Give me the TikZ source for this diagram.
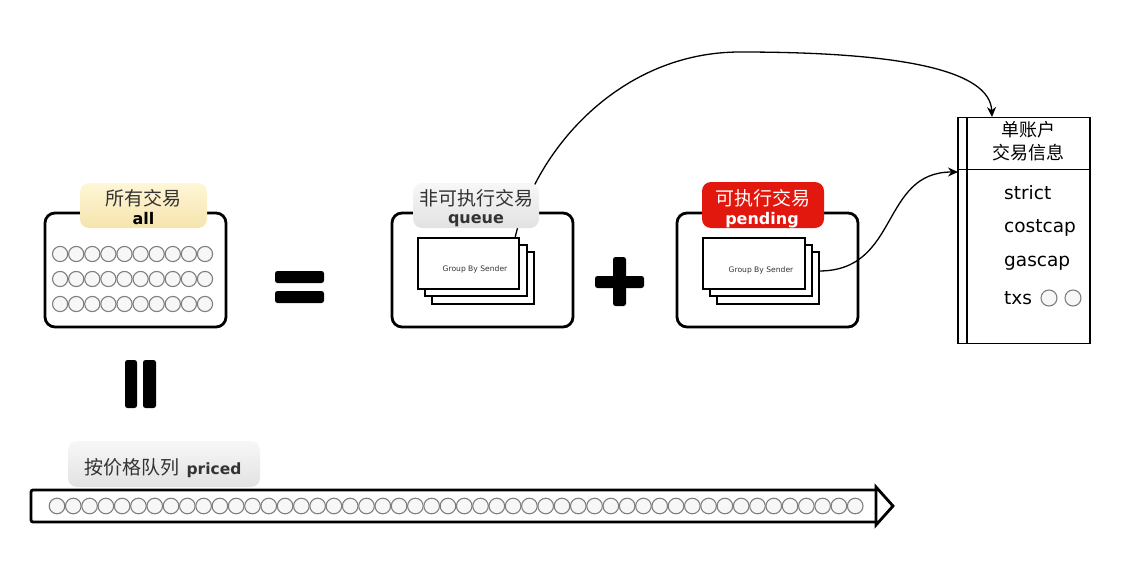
\documentclass[tikz,border=0pt]{standalone}
\usepackage{fontspec}
\newfontfamily\cjk{Noto Sans CJK SC}
\newfontfamily\lat{DejaVu Sans}
\usetikzlibrary{arrows.meta}
\definecolor{tabyellowtop}{HTML}{FFF6D6}
\definecolor{tabyellowbot}{HTML}{F6E4AE}
\definecolor{tabgraytop}{HTML}{F7F7F7}
\definecolor{tabgraybot}{HTML}{E2E2E2}
\definecolor{tabred}{HTML}{E2170D}
\definecolor{ringgray}{HTML}{7F7F7F}
\definecolor{txtgray}{HTML}{333333}
\tikzset{
  container/.style={draw=black, line width=2.8pt, rounded corners=10pt},
  tab/.style={rounded corners=9pt, draw=none},
  graytab/.style={tab, top color=tabgraytop, bottom color=tabgraybot},
  card/.style={draw=black, line width=1.3pt, fill=white},
  ring/.style={draw=ringgray, line width=1.1pt, fill=white!97!black},
  bar/.style={fill=black, rounded corners=2.5pt},
  cjktxt/.style={font=\cjk\fontsize{19}{22}\selectfont, text=txtgray, inner sep=0pt},
  lattxt/.style={font=\lat\bfseries\fontsize{16}{19}\selectfont, text=txtgray, inner sep=0pt},
  grptxt/.style={font=\lat\fontsize{7.6}{9}\selectfont, text=txtgray, inner sep=0pt},
  itemtxt/.style={font=\lat\fontsize{18.5}{21}\selectfont, anchor=west, inner sep=0pt},
  conn/.style={draw=black, line width=1.3pt, -{Stealth[length=10pt,width=9pt]}},
}
\begin{document}
\begin{tikzpicture}[x=1pt,y=-1pt]
\useasboundingbox (0,0) rectangle (1130,570);

% ---------- all box ----------
\draw[container] (45,213) rectangle (226,327);
\node[tab, top color=tabyellowtop, bottom color=tabyellowbot, minimum width=127pt, minimum height=45pt] (alltab) at (143.5,205.5) {};
\node[cjktxt] (allcn) at (143.5,198) {所有交易};
\node[lattxt, text=black] (allen) at (143.5,219) {all};
\foreach \r/\yy in {0/254,1/279,2/304}{
  \foreach \i in {0,...,9}{
    \draw[ring] ({60.1+16.1*\i},\yy) circle (7.6);
  }
}

% ---------- equals ----------
\fill[bar] (275,271) rectangle (324,283);
\fill[bar] (275,291) rectangle (324,303);

% ---------- parallel ----------
\fill[bar] (125,360) rectangle (137,408);
\fill[bar] (143,360) rectangle (156,408);

% ---------- queue box ----------
\draw[container] (392,213) rectangle (573,327);
\draw[card] (432,252) rectangle (534,304);
\draw[card] (425,245) rectangle (527,296);
\draw[card] (418,238) rectangle (519,289);
\node[grptxt] (qgrp) at (475,269) {Group By Sender};
\coordinate (qstart) at (515,238);

% ---------- plus ----------
\fill[bar] (595,276) rectangle (644,288);
\fill[bar] (613,257) rectangle (626,306);

% ---------- pending box ----------
\draw[container] (677,213) rectangle (858,327);
\draw[card] (717,252) rectangle (819,304);
\draw[card] (710,245) rectangle (812,296);
\draw[card] (703,238) rectangle (805,289);
\node[grptxt] (pgrp) at (761,270) {Group By Sender};
\coordinate (pstart) at (819,271);

% ---------- right info box ----------
\node[draw=black, line width=1.3pt, minimum width=132pt, minimum height=226pt, inner sep=0pt] (info) at (1024,230.5) {};
\draw[line width=1.3pt] (967,117) -- (967,344);
\draw[line width=1.3pt] (958,169.5) -- (1090,169.5);
\node[font=\cjk\fontsize{18}{21}\selectfont, inner sep=0pt] (infot1) at (1028,130) {单账户};
\node[font=\cjk\fontsize{18}{21}\selectfont, inner sep=0pt] (infot2) at (1028,153) {交易信息};
\node[itemtxt] (istrict) at (1004,193) {strict};
\node[itemtxt] (icost) at (1004,228) {costcap};
\node[itemtxt] (igas) at (1004,263) {gascap};
\node[itemtxt] (itxs) at (1004,298) {txs};
\draw[ring] (1049,298) circle (8);
\draw[ring] (1073,298) circle (8);
\coordinate (infotop) at (992,117);
\coordinate (infoleft) at (958,172);

% ---------- connectors ----------
\draw[conn] (qstart) .. controls (535,150) and (620,52) .. (740,52)
   .. controls (900,52) and (990,70) .. (infotop);
\draw[conn] (pstart) .. controls (900,271) and (880,172) .. (infoleft);

% tabs drawn above connector
\node[graytab, minimum width=126pt, minimum height=45pt] (qtab) at (476,205.5) {};
\node[cjktxt] (qcn) at (476,198) {非可执行交易};
\node[lattxt] (qen) at (476,221) {queue};

\node[tab, fill=tabred, minimum width=122pt, minimum height=46pt] (ptab) at (763,205) {};
\node[cjktxt, text=white] (pcn) at (763,198) {可执行交易};
\node[lattxt, text=white] (pen) at (762,220.5) {pending};

% ---------- priced queue ----------
\draw[line width=2.8pt, rounded corners=2pt] (876,490) -- (31,490) -- (31,522) -- (876,522);
\draw[line width=2.8pt, line join=miter] (876,487) -- (893,506) -- (876,525) -- cycle;
\foreach \i in {0,...,49}{
  \draw[ring] ({57+16.29*\i},506) circle (7.8);
}
\node[graytab, minimum width=192pt, minimum height=46pt] (prtab) at (164,464) {};
\node[inner sep=0pt, text=txtgray] (prtxt) at (163,468) {{\cjk\fontsize{19}{22}\selectfont 按价格队列}\hspace{7pt}{\lat\bfseries\fontsize{15.5}{19}\selectfont priced}};
\end{tikzpicture}
\end{document}
